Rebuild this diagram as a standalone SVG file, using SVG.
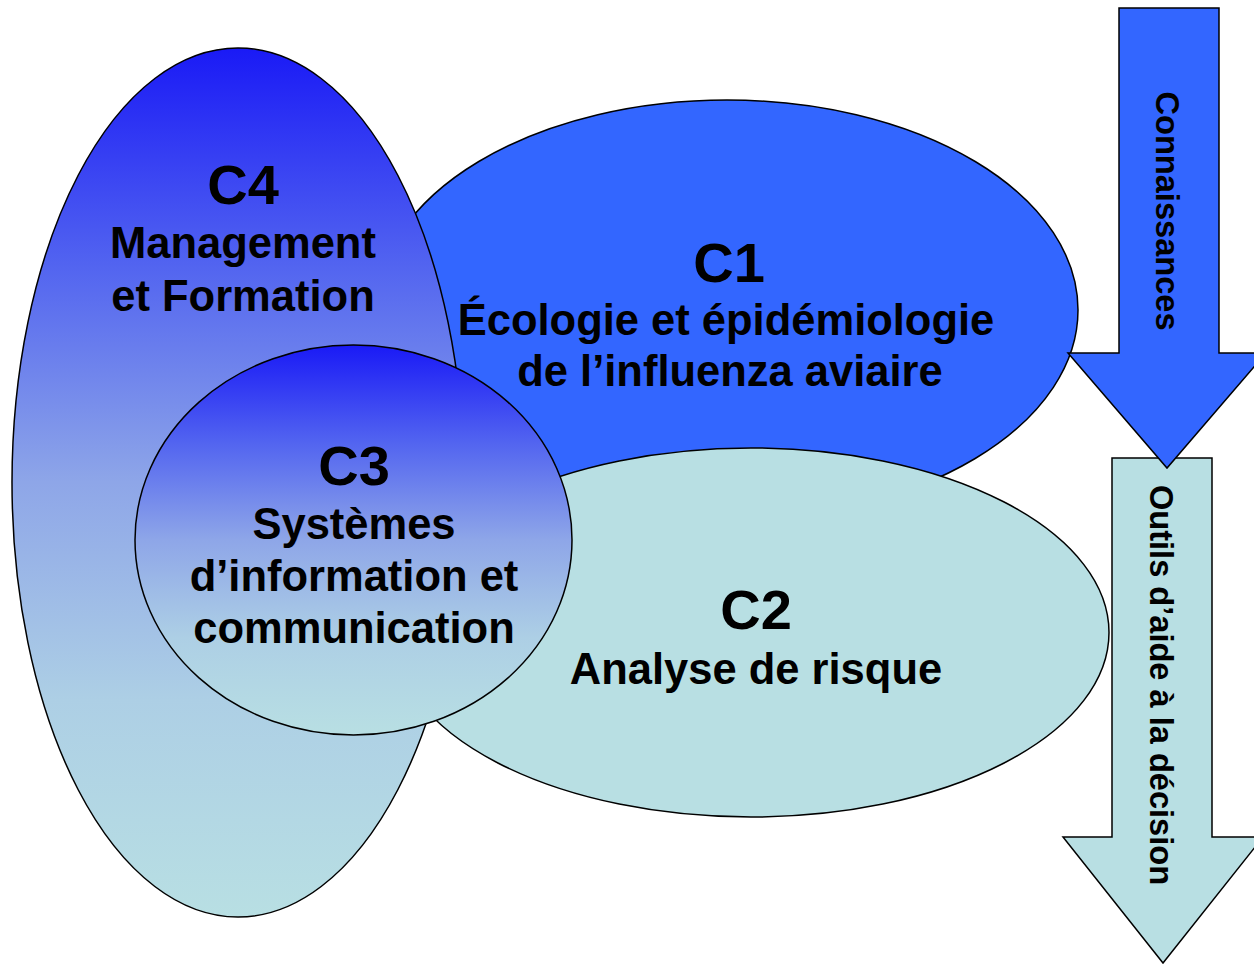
<svg xmlns="http://www.w3.org/2000/svg" width="1254" height="965" viewBox="0 0 1254 965">
  <defs>
    <linearGradient id="blueGrad" x1="0" y1="0" x2="0" y2="1">
      <stop offset="0" stop-color="#1a1af6"/>
      <stop offset="0.25" stop-color="#5264f0"/>
      <stop offset="0.5" stop-color="#8ea6e8"/>
      <stop offset="0.75" stop-color="#adcfe5"/>
      <stop offset="1" stop-color="#b8dfe3"/>
    </linearGradient>
    <style>
      .shape { stroke: #000; stroke-width: 1.5; }
      .t { font-family: "Liberation Sans", Arial, sans-serif; font-weight: bold; fill: #000; text-anchor: middle; }
      .title { font-size: 56px; }
      .sub { font-size: 43.5px; }
      .arr { font-size: 32.6px; }
    </style>
  </defs>
  <rect width="1254" height="965" fill="#fff"/>

  <g id="C1">
    <ellipse class="shape" cx="727" cy="310" rx="351" ry="210" fill="#3366ff"/>
  </g>
  <g id="C2">
    <ellipse class="shape" cx="751" cy="632.5" rx="358" ry="184.5" fill="#b8dfe3"/>
  </g>
  <g id="C4">
    <ellipse class="shape" cx="238" cy="482.5" rx="226" ry="434.5" fill="url(#blueGrad)"/>
  </g>
  <g id="C3">
    <ellipse class="shape" cx="353.5" cy="540" rx="218.5" ry="195" fill="url(#blueGrad)"/>
  </g>

  <g id="C1-label">
    <text class="t title" x="729" y="282">C1</text>
    <text class="t sub" x="726" y="335">Écologie et épidémiologie</text>
    <text class="t sub" x="730" y="386">de l’influenza aviaire</text>
  </g>
  <g id="C2-label">
    <text class="t title" x="756" y="629">C2</text>
    <text class="t sub" x="756" y="684">Analyse de risque</text>
  </g>
  <g id="C4-label">
    <text class="t title" x="243" y="204">C4</text>
    <text class="t sub" x="243" y="258">Management</text>
    <text class="t sub" x="243" y="311">et Formation</text>
  </g>
  <g id="C3-label">
    <text class="t title" x="354" y="485">C3</text>
    <text class="t sub" x="354" y="539">Systèmes</text>
    <text class="t sub" x="354" y="591">d’information et</text>
    <text class="t sub" x="354" y="643">communication</text>
  </g>

  <g id="arrow-outils">
    <polygon class="shape" points="1112,458 1212,458 1212,837 1263,837 1163,963 1063,837 1112,837" fill="#b8dfe3"/>
    <text class="t arr" transform="translate(1150,685) rotate(90)">Outils d’aide à la décision</text>
  </g>
  <g id="arrow-connaissances">
    <polygon class="shape" points="1119,8 1219,8 1219,353 1266,353 1167,468 1068,353 1119,353" fill="#3366ff"/>
    <text class="t arr" transform="translate(1156,211) rotate(90)">Connaissances</text>
  </g>
</svg>
